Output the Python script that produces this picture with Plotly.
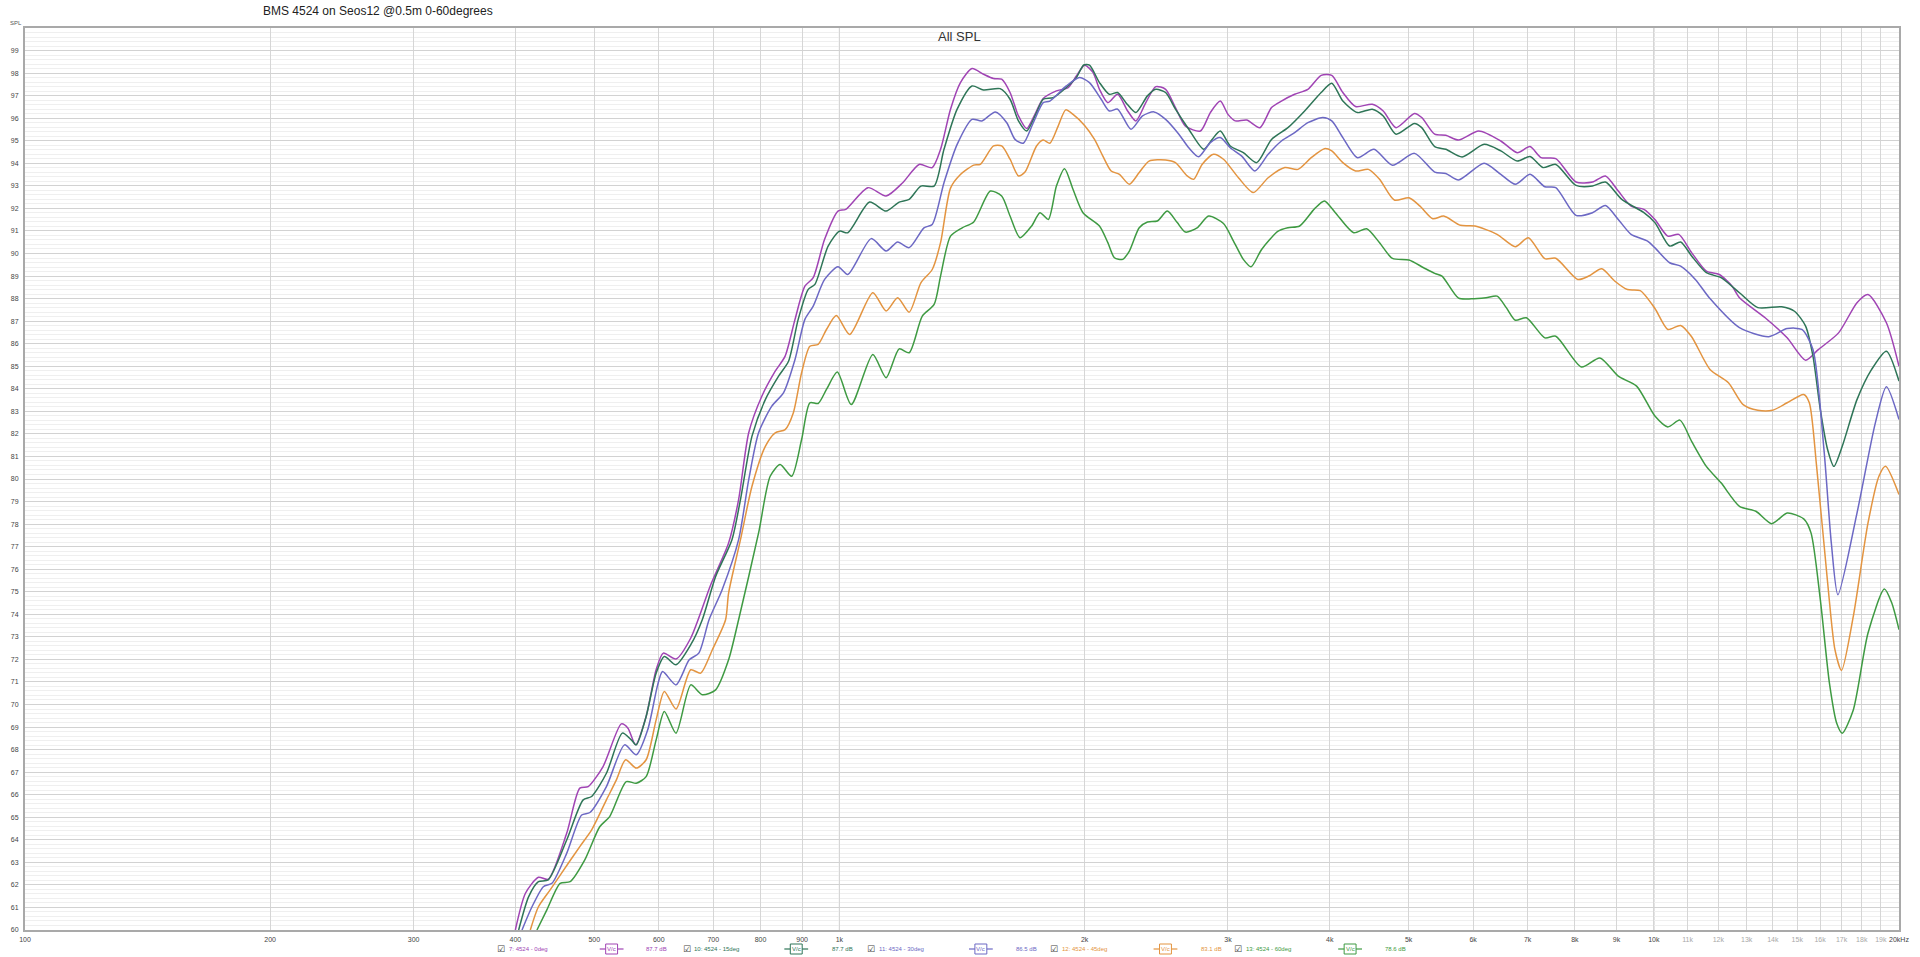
import plotly.graph_objects as go

# ---------------- data ----------------
f_0deg = [400, 411.6, 427, 439, 462.5, 480, 491.5, 512.6, 539.8, 550, 561.9, 579, 595.6, 607.8, 630, 656.9, 695, 731, 752, 773.8, 803, 834, 857.7, 882, 907, 928.6, 959, 996, 1018, 1084, 1141, 1196, 1253, 1300, 1331, 1369, 1408, 1455, 1503, 1546, 1582, 1620, 1659, 1698, 1738, 1779, 1847, 1909, 1954, 2000, 2048, 2086, 2136, 2196, 2259, 2312, 2378, 2446, 2515, 2586, 2660, 2775, 2854, 2935, 3000, 3062, 3163, 3283, 3393, 3489, 3622, 3760, 3904, 4023, 4151, 4303, 4511, 4653, 4825, 5082, 5188, 5382, 5553, 5757, 6095, 6488, 6796, 7047, 7270, 7579, 8024, 8408, 8721, 9043, 9377, 9723, 10031, 10404, 10731, 11127, 11600, 12033, 12477, 12739, 13698, 14578, 15359, 15921, 16859, 17760, 18323, 19300, 20000]
spl_0deg = [60.0, 61.63, 62.34, 62.25, 64.29, 66.29, 66.36, 67.25, 69.14, 68.95, 68.21, 69.47, 71.54, 72.28, 72.02, 72.95, 75.31, 77.16, 79.09, 82.05, 83.67, 84.78, 85.45, 87.08, 88.55, 88.93, 90.63, 91.88, 91.96, 92.92, 92.55, 93.14, 93.95, 93.81, 94.62, 96.40, 97.58, 98.20, 97.95, 97.76, 97.73, 97.14, 96.10, 95.54, 96.17, 96.87, 97.21, 97.36, 97.87, 98.35, 98.03, 97.28, 96.69, 97.06, 96.32, 95.88, 96.69, 97.40, 97.28, 96.47, 95.65, 95.43, 96.25, 96.76, 96.17, 95.88, 95.92, 95.58, 96.47, 96.76, 97.06, 97.28, 97.90, 97.90, 97.14, 96.52, 96.62, 96.32, 95.58, 96.21, 96.03, 95.29, 95.24, 95.03, 95.43, 94.99, 94.47, 94.74, 94.25, 94.21, 93.17, 93.17, 93.44, 92.77, 92.10, 91.96, 91.51, 90.77, 90.85, 90.04, 89.22, 89.07, 88.55, 88.04, 87.15, 86.26, 85.27, 85.74, 86.48, 87.82, 88.18, 86.93, 85.0]

f_15deg = [403.8, 415.4, 427, 439, 462.5, 484.6, 496.3, 517.5, 541.3, 555.3, 563, 579, 595.6, 609.6, 630, 656.9, 678.6, 704.7, 738, 756, 781, 811, 842, 866, 890, 915.6, 933, 968.6, 1000, 1024, 1089, 1141, 1184, 1218, 1259, 1307, 1344, 1395, 1455, 1503, 1575, 1620, 1659, 1698, 1746, 1779, 1830, 1899, 1954, 1995, 2028, 2086, 2145, 2196, 2248, 2312, 2389, 2446, 2515, 2586, 2685, 2801, 2868, 2935, 3019, 3133, 3253, 3393, 3554, 3726, 3904, 4023, 4151, 4326, 4511, 4653, 4825, 5082, 5188, 5382, 5553, 5816, 6189, 6488, 6796, 7047, 7308, 7579, 8024, 8408, 8721, 9134, 9723, 10031, 10457, 10788, 11127, 11600, 12093, 12739, 13417, 14353, 14883, 15359, 15682, 16011, 16347, 16638, 17035, 17760, 18510, 19300, 20000]
spl_15deg = [60.0, 61.48, 62.14, 62.22, 63.99, 65.77, 65.92, 66.95, 68.73, 68.43, 68.21, 69.47, 71.39, 72.13, 71.76, 72.65, 73.76, 75.68, 77.31, 79.09, 81.9, 83.52, 84.56, 85.22, 87.08, 88.41, 88.63, 90.33, 90.99, 90.92, 92.28, 91.88, 92.28, 92.40, 92.99, 92.99, 94.62, 96.40, 97.43, 97.25, 97.31, 96.84, 95.88, 95.43, 96.25, 96.84, 96.91, 97.36, 97.80, 98.36, 98.35, 97.58, 97.06, 97.14, 96.69, 96.25, 96.99, 97.28, 97.14, 96.40, 95.51, 94.62, 95.06, 95.43, 94.77, 94.47, 94.03, 95.06, 95.58, 96.32, 97.14, 97.55, 96.76, 96.25, 96.40, 96.10, 95.29, 95.77, 95.58, 94.74, 94.62, 94.28, 94.84, 94.55, 94.10, 94.30, 93.81, 93.95, 93.02, 92.99, 93.17, 92.40, 91.81, 91.37, 90.33, 90.51, 89.89, 89.15, 88.93, 88.26, 87.60, 87.64, 87.44, 86.78, 85.45, 83.08, 81.30, 80.56, 81.45, 83.52, 84.86, 85.67, 84.34]

f_30deg = [407.6, 419.3, 433, 443.6, 462.5, 482.5, 493.9, 517.5, 544.8, 563, 581.6, 598.2, 606.6, 630, 654, 672, 691.7, 717.8, 752, 773.8, 795.7, 826, 853.7, 882, 907, 928.6, 959, 996, 1024, 1094, 1141, 1179, 1218, 1270, 1300, 1344, 1395, 1455, 1496, 1554, 1605, 1643, 1682, 1730, 1779, 1813, 1899, 1972, 2028, 2096, 2145, 2196, 2280, 2356, 2434, 2515, 2611, 2685, 2761, 2854, 2935, 3019, 3119, 3237, 3361, 3489, 3622, 3760, 3922, 4023, 4151, 4326, 4533, 4776, 5082, 5382, 5553, 5757, 6189, 6488, 6761, 7047, 7348, 7579, 8024, 8408, 8721, 9043, 9377, 9824, 10031, 10457, 10788, 11245, 11720, 12739, 13840, 14578, 15198, 15682, 16177, 16517, 16826, 17760, 18707, 19300, 20000]
spl_30deg = [60.0, 61.03, 61.92, 62.07, 63.40, 65.10, 65.21, 66.36, 68.21, 67.77, 68.88, 70.87, 71.46, 70.87, 71.98, 72.28, 73.76, 75.09, 77.31, 79.97, 82.05, 83.23, 83.82, 85.30, 87.08, 87.67, 88.85, 89.41, 89.07, 90.66, 90.11, 90.51, 90.26, 91.14, 91.29, 93.14, 94.84, 95.95, 95.88, 96.28, 95.80, 95.06, 94.89, 95.80, 96.69, 96.76, 97.43, 97.80, 97.58, 96.84, 96.32, 96.40, 95.51, 96.10, 96.28, 95.95, 95.29, 94.69, 94.29, 94.92, 95.14, 94.69, 94.32, 93.66, 94.40, 94.99, 95.36, 95.80, 96.03, 95.88, 95.14, 94.25, 94.62, 93.91, 94.44, 93.61, 93.55, 93.26, 94.00, 93.51, 93.07, 93.51, 92.96, 92.92, 91.69, 91.81, 92.13, 91.51, 90.85, 90.55, 90.25, 89.59, 89.44, 88.85, 88.0, 86.71, 86.31, 86.67, 86.63, 85.74, 81.30, 77.16, 74.87, 78.49, 82.49, 84.09, 82.64]

f_45deg = [417.3, 427, 441.4, 464.6, 480, 496.3, 517.5, 532.3, 546.4, 563, 579, 595.6, 609.6, 630, 656.9, 675.5, 698.2, 724.8, 731, 756, 781, 811, 834, 857.7, 877.7, 898.6, 919.9, 941.7, 964, 991.3, 1029.4, 1099, 1141, 1179, 1218, 1259, 1300, 1331, 1369, 1408, 1462, 1489, 1546, 1582, 1620, 1659, 1690, 1746, 1779, 1813, 1856, 1896, 1936, 2000, 2057, 2106, 2156, 2207, 2270, 2334, 2400, 2515, 2586, 2673, 2723, 2788, 2880, 2962, 3090, 3222, 3361, 3523, 3656, 3796, 3940, 4023, 4151, 4303, 4463, 4605, 4801, 5005, 5163, 5353, 5521, 5787, 6032, 6420, 6761, 7013, 7348, 7579, 8064, 8321, 8630, 8950, 9282, 9623, 10031, 10404, 10788, 11127, 11720, 12348, 12873, 13417, 13988, 14578, 15277, 15521, 15844, 16347, 16687, 17000, 17576, 18323, 18897, 19252, 20000]
spl_45deg = [60.0, 61.03, 61.78, 62.96, 63.70, 64.44, 65.77, 66.66, 67.55, 67.18, 67.55, 69.32, 70.58, 69.80, 71.54, 71.39, 72.43, 73.76, 74.94, 77.31, 79.68, 81.45, 82.05, 82.19, 82.93, 84.71, 85.89, 85.97, 86.63, 87.25, 86.41, 88.26, 87.45, 88.04, 87.40, 88.70, 89.29, 90.48, 92.9, 93.5, 93.92, 93.95, 94.77, 94.77, 94.18, 93.44, 93.61, 94.77, 95.03, 94.89, 95.65, 96.37, 96.17, 95.68, 95.06, 94.32, 93.66, 93.51, 93.07, 93.59, 94.10, 94.15, 94.03, 93.44, 93.29, 93.95, 94.40, 94.18, 93.36, 92.70, 93.36, 93.81, 93.73, 94.25, 94.65, 94.55, 94.03, 93.66, 93.73, 93.29, 92.37, 92.47, 92.10, 91.54, 91.66, 91.25, 91.22, 90.85, 90.30, 90.70, 89.77, 89.79, 88.85, 89.0, 89.32, 88.78, 88.40, 88.35, 87.56, 86.63, 86.81, 86.31, 84.86, 84.27, 83.30, 83.05, 83.05, 83.38, 83.75, 83.38, 80.56, 75.39, 72.43, 71.51, 73.91, 78.05, 80.12, 80.56, 79.31]

f_60deg = [425.2, 437.3, 454, 467, 486.8, 507.8, 522.3, 547.4, 563, 579, 595.6, 609.6, 630, 656.9, 678.6, 704.7, 731, 752, 795.7, 822.2, 845.6, 873.6, 898.6, 919.9, 941.7, 964, 994, 1034, 1099, 1141, 1184, 1218, 1264, 1307, 1331, 1369, 1415, 1462, 1532, 1582, 1620, 1666, 1722, 1763, 1805, 1847, 1890, 1936, 1991, 2086, 2136, 2176, 2227, 2270, 2334, 2389, 2457, 2527, 2599, 2660, 2749, 2840, 2962, 3047, 3133, 3202, 3299, 3457, 3554, 3674, 3833, 3940, 4064, 4281, 4440, 4605, 4776, 5005, 5216, 5382, 5494, 5757, 5970, 6223, 6420, 6589, 6761, 6974, 7348, 7579, 8149, 8585, 9043, 9524, 10031, 10404, 10765, 11127, 11600, 12093, 12739, 13346, 13955, 14578, 15277, 15595, 16011, 16429, 16771, 17035, 17576, 18323, 19191, 19596, 20000]
spl_60deg = [60.0, 60.89, 62.07, 62.14, 63.11, 64.58, 65.03, 66.58, 66.51, 66.80, 68.43, 69.69, 68.73, 70.87, 70.43, 70.65, 71.98, 73.76, 77.61, 80.12, 80.64, 80.12, 81.75, 83.38, 83.35, 83.97, 84.74, 83.30, 85.52, 84.49, 85.77, 85.60, 87.22, 87.74, 89.0, 90.77, 91.14, 91.40, 92.77, 92.55, 91.66, 90.70, 91.22, 91.81, 91.51, 92.99, 93.76, 92.84, 91.81, 91.22, 90.48, 89.81, 89.74, 90.11, 91.14, 91.40, 91.44, 91.88, 91.37, 90.95, 91.14, 91.66, 91.33, 90.55, 89.74, 89.41, 90.18, 90.99, 91.14, 91.22, 91.99, 92.33, 91.81, 90.92, 91.10, 90.48, 89.78, 89.71, 89.37, 89.12, 89.0, 88.02, 87.99, 88.04, 88.11, 87.60, 87.04, 87.15, 86.26, 86.33, 84.97, 85.37, 84.56, 84.12, 82.79, 82.31, 82.61, 81.67, 80.56, 79.83, 78.79, 78.57, 78.02, 78.49, 78.23, 77.61, 74.65, 70.95, 69.17, 68.73, 69.76, 73.17, 75.12, 74.50, 73.32]

series_names = ["7: 4524 - 0deg", "10: 4524 - 15deg", "11: 4524 - 30deg", "12: 4524 - 45deg", "13: 4524 - 60deg"]
series_levels = ["87.7 dB", "87.7 dB", "86.5 dB", "83.1 dB", "78.6 dB"]
series_colors = ["#a044b4", "#2e7557", "#6c68c4", "#e39440", "#3e9a42"]

x_tick_vals = [100, 200, 300, 400, 500, 600, 700, 800, 900, 1000, 2000, 3000, 4000, 5000, 6000,
               7000, 8000, 9000, 10000, 11000, 12000, 13000, 14000, 15000, 16000, 17000, 18000,
               19000, 20000]
x_tick_text = ["100", "200", "300", "400", "500", "600", "700", "800", "900", "1k", "2k", "3k", "4k",
               "5k", "6k", "7k", "8k", "9k", "10k", "11k", "12k", "13k", "14k", "15k", "16k",
               "17k", "18k", "19k", "20kHz"]
y_tick_vals = list(range(60, 100))

# ---------------- figure ----------------
W, H = 1920, 957
ML, MR, MT, MB = 21, 11, 28, 27
PW, PH = W - ML - MR, H - MT - MB


def px(x):
    return (x - ML) / PW


def py(y):
    return (H - MB - y) / PH


fig = go.Figure()
freqs = [f_0deg, f_15deg, f_30deg, f_45deg, f_60deg]
spls = [spl_0deg, spl_15deg, spl_30deg, spl_45deg, spl_60deg]
for name, fx, sy, col in zip(series_names, freqs, spls, series_colors):
    fig.add_trace(go.Scatter(x=fx, y=sy, mode="lines", name=name,
                             line=dict(color=col, width=1.5, shape="spline", smoothing=0.7),
                             showlegend=False, hoverinfo="x+y+name"))

tick_text_styled = []
for v, t in zip(x_tick_vals, x_tick_text):
    if 11000 <= v <= 19000:
        tick_text_styled.append('<span style="color:#a8a8a8">%s</span>' % t)
    else:
        tick_text_styled.append(t)

fig.update_layout(
    width=W, height=H,
    margin=dict(l=ML, r=MR, t=MT, b=MB, pad=0),
    paper_bgcolor="white", plot_bgcolor="white",
    font=dict(family="Liberation Sans, Arial, sans-serif", color="#333"),
    xaxis=dict(type="log", range=[2, 4.30103], tickvals=x_tick_vals, ticktext=tick_text_styled,
               showgrid=True, gridcolor="#d6d6d6", gridwidth=1, zeroline=False,
               showline=True, linecolor="#a9a9a9", linewidth=2, mirror=True,
               ticks="", tickfont=dict(size=7, color="#444"), ticklabelstandoff=2),
    yaxis=dict(range=[60, 100], tickvals=y_tick_vals, showgrid=True, gridcolor="#d2d2d2",
               gridwidth=1, zeroline=False, showline=True, linecolor="#a9a9a9", linewidth=2,
               mirror=True, ticks="", tickfont=dict(size=7, color="#444"), ticklabelstandoff=3,
               minor=dict(dtick=0.2, showgrid=True, gridcolor="#efefef", gridwidth=1)),
)

# darker decade lines
for v in (1000, 10000):
    fig.add_shape(type="line", xref="x", yref="paper", x0=v, x1=v, y0=0, y1=1,
                  line=dict(color="#a9a9a9", width=1), layer="below")

annotations = [
    dict(text="BMS 4524 on Seos12 @0.5m 0-60degrees", x=px(259), y=py(11), xanchor="left",
         yanchor="middle", font=dict(size=12, color="#222")),
    dict(text="All SPL", x=px(962), y=py(36), xanchor="center", yanchor="middle",
         font=dict(size=13, color="#333")),
    dict(text="SPL", x=px(4), y=py(23), xanchor="left", yanchor="middle",
         font=dict(size=6, color="#555")),
]

# legend row at bottom
leg_y = 949
cb_x = [501, 688, 873, 1058, 1243]
name_x = [507, 693, 879, 1064, 1249]
icon_x = [612, 798, 984, 1170, 1356]
lvl_x = [645, 832, 1017, 1204, 1389]
for i in range(5):
    col = series_colors[i]
    annotations.append(dict(text="☑", x=px(cb_x[i]), y=py(leg_y), xanchor="center", yanchor="middle",
                            font=dict(size=9, color="#444", family="DejaVu Sans")))
    annotations.append(dict(text=series_names[i], x=px(name_x[i]), y=py(leg_y), xanchor="left",
                            yanchor="middle", font=dict(size=6, color=col)))
    annotations.append(dict(text=series_levels[i], x=px(lvl_x[i]), y=py(leg_y), xanchor="left",
                            yanchor="middle", font=dict(size=6, color=col)))
    annotations.append(dict(text="V/c", x=px(icon_x[i]), y=py(leg_y), xanchor="center",
                            yanchor="middle", font=dict(size=6, color=col)))
    cx = icon_x[i]
    fig.add_shape(type="line", xref="paper", yref="paper", x0=px(cx - 12), x1=px(cx - 6),
                  y0=py(leg_y), y1=py(leg_y), line=dict(color=col, width=1.2))
    fig.add_shape(type="line", xref="paper", yref="paper", x0=px(cx + 6), x1=px(cx + 12),
                  y0=py(leg_y), y1=py(leg_y), line=dict(color=col, width=1.2))
    fig.add_shape(type="rect", xref="paper", yref="paper", x0=px(cx - 6), x1=px(cx + 6),
                  y0=py(leg_y + 5), y1=py(leg_y - 5), line=dict(color=col, width=1))

for a in annotations:
    a.setdefault("xref", "paper")
    a.setdefault("yref", "paper")
    a.setdefault("showarrow", False)
fig.update_layout(annotations=annotations)

fig.write_html("out.html", config={"displayModeBar": False})

# remove the browser's default page margin so the figure sits at the window's corner
with open("out.html", "r", encoding="utf-8") as fh:
    page = fh.read()
page = page.replace("<head>", "<head><style>html,body{margin:0;padding:0;overflow:hidden;}</style>", 1)
with open("out.html", "w", encoding="utf-8") as fh:
    fh.write(page)
